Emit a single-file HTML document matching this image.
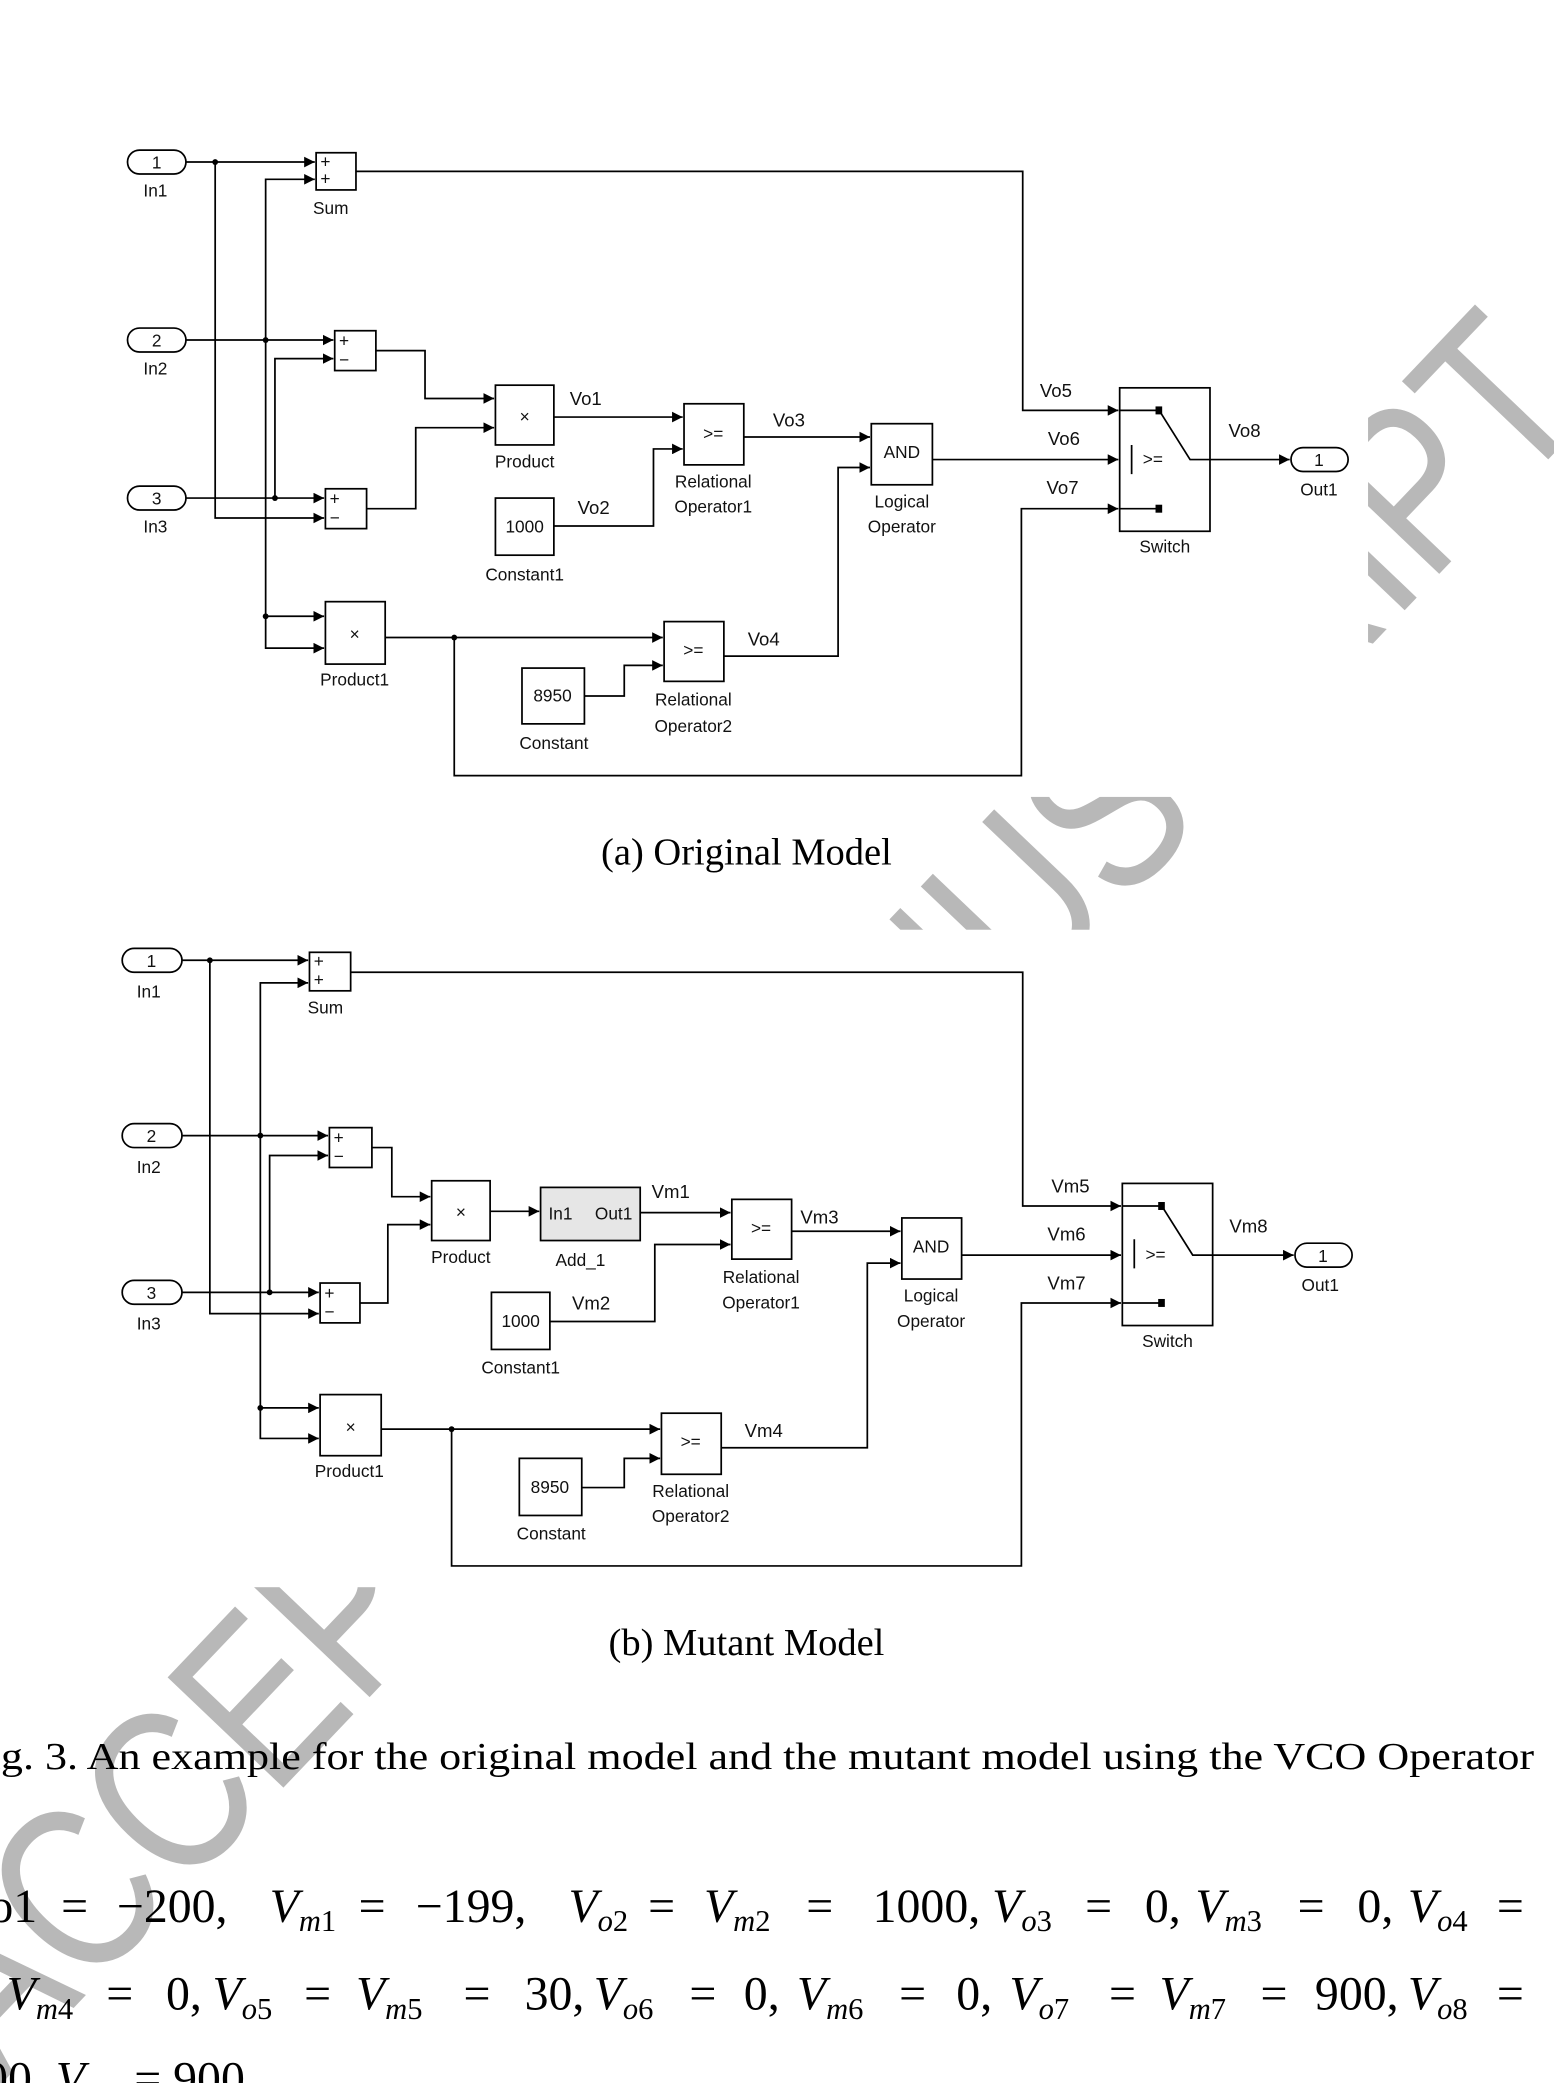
<!DOCTYPE html>
<html><head><meta charset="utf-8"><style>
html,body{margin:0;padding:0;background:#fff;}
svg{display:block;}
.b{fill:#fff;stroke:#000;stroke-width:1.3;}
.w{fill:none;stroke:#000;stroke-width:1.3;}
.t{font-family:"Liberation Sans",sans-serif;font-size:13px;fill:#111;text-anchor:middle;}
.l{font-family:"Liberation Sans",sans-serif;font-size:14px;fill:#111;text-anchor:middle;}
.s{font-family:"Liberation Serif",serif;fill:#000;}
.e{font-family:"Liberation Serif",serif;fill:#000;font-size:36px;}
.e tspan.v{font-style:italic;}
.e tspan.sb{font-size:23px;}
</style></head><body>
<svg width="1554" height="2083" viewBox="0 0 1170 1568.3" xmlns="http://www.w3.org/2000/svg">
<defs>
<marker id="a" viewBox="0 0 10 10" refX="10" refY="5" markerWidth="8" markerHeight="8" markerUnits="userSpaceOnUse" orient="auto"><path d="M0,0L10,5L0,10z" fill="#000"/></marker>
</defs>
<!-- watermark -->
<text x="0" y="0" transform="translate(0,1570) rotate(-46.4)" font-family="Liberation Sans,sans-serif" font-size="175" fill="#b8b8b8" textLength="1740" lengthAdjust="spacingAndGlyphs">ACCEPTED MANUSCRIPT</text>
<rect x="0" y="88" width="1030" height="512" fill="#fff"/>
<rect x="0" y="700" width="1170" height="495" fill="#fff"/>

<!-- ============ FIGURE A ============ -->
<g>
<g class="w" marker-end="url(#a)">
<path d="M140,122H237"/><path d="M162,122V390H244"/>
<path d="M140,256H251"/><path d="M200,256V135H237"/><path d="M200,256V488H244"/><path d="M200,464H244"/>
<path d="M140,375H244"/><path d="M207,375V270H251"/>
<path d="M283,264H320V300H372"/><path d="M276,383H313V322H372"/>
<path d="M417,314H514"/><path d="M417,396H492V338H514"/>
<path d="M560,329H655"/><path d="M702,346H842"/>
<path d="M290,480H499"/><path d="M342,480V584H769V383H842"/>
<path d="M440,524H470V501H499"/><path d="M545,494H631V352H655"/>
<path d="M268,129H770V309H842"/><path d="M911,346H971"/>
</g>
<g fill="#000"><circle cx="162" cy="122" r="2.2"/><circle cx="200" cy="256" r="2.2"/><circle cx="200" cy="464" r="2.2"/><circle cx="207" cy="375" r="2.2"/><circle cx="342" cy="480" r="2.2"/></g>
<rect class="b" x="96" y="113" width="44" height="18" rx="9"/><text class="t" x="118" y="127">1</text><text class="t" x="117" y="148">In1</text>
<rect class="b" x="96" y="247" width="44" height="18" rx="9"/><text class="t" x="118" y="261">2</text><text class="t" x="117" y="282">In2</text>
<rect class="b" x="96" y="366" width="44" height="18" rx="9"/><text class="t" x="118" y="380">3</text><text class="t" x="117" y="401">In3</text>
<rect class="b" x="972" y="337" width="43" height="18" rx="9"/><text class="t" x="993" y="351">1</text><text class="t" x="993" y="373">Out1</text>
<rect class="b" x="238" y="115" width="30" height="28"/><text class="t" x="245" y="126" font-size="11">+</text><text class="t" x="245" y="139" font-size="11">+</text><text class="t" x="249" y="161">Sum</text>
<rect class="b" x="252" y="249" width="31" height="30"/><text class="t" x="259" y="261" font-size="11">+</text><text class="t" x="259" y="275" font-size="11">−</text>
<rect class="b" x="245" y="368" width="31" height="30"/><text class="t" x="252" y="380" font-size="11">+</text><text class="t" x="252" y="394" font-size="11">−</text>
<rect class="b" x="373" y="290" width="44" height="45"/><text class="t" x="395" y="318" font-size="16">×</text><text class="t" x="395" y="352">Product</text>
<rect class="b" x="245" y="453" width="45" height="47"/><text class="t" x="267" y="482" font-size="16">×</text><text class="t" x="267" y="516">Product1</text>
<rect class="b" x="373" y="375" width="44" height="43"/><text class="t" x="395" y="401">1000</text><text class="t" x="395" y="437">Constant1</text>
<rect class="b" x="393" y="503" width="47" height="42"/><text class="t" x="416" y="528">8950</text><text class="t" x="417" y="564">Constant</text>
<rect class="b" x="515" y="304" width="45" height="46"/><text class="t" x="537" y="331">&gt;=</text><text class="t" x="537" y="367">Relational</text><text class="t" x="537" y="386">Operator1</text>
<rect class="b" x="500" y="468" width="45" height="45"/><text class="t" x="522" y="494">&gt;=</text><text class="t" x="522" y="531">Relational</text><text class="t" x="522" y="551">Operator2</text>
<rect class="b" x="656" y="319" width="46" height="46"/><text class="t" x="679" y="345">AND</text><text class="t" x="679" y="382">Logical</text><text class="t" x="679" y="401">Operator</text>
<rect class="b" x="843" y="292" width="68" height="108"/>
<path class="w" d="M843,309H872M843,383H872M852,335V357M874,311L896,346H911"/>
<rect x="870" y="306" width="5" height="6" fill="#000"/><rect x="870" y="380" width="5" height="6" fill="#000"/>
<text class="t" x="868" y="350" font-size="12">&gt;=</text><text class="t" x="877" y="416">Switch</text>
<text class="l" x="441" y="305">Vo1</text><text class="l" x="447" y="387">Vo2</text><text class="l" x="594" y="321">Vo3</text><text class="l" x="575" y="486">Vo4</text>
<text class="l" x="795" y="299">Vo5</text><text class="l" x="801" y="335">Vo6</text><text class="l" x="800" y="372">Vo7</text><text class="l" x="937" y="329">Vo8</text>
</g>
<text class="s" x="562" y="651" font-size="29" text-anchor="middle">(a) Original Model</text>

<!-- ============ FIGURE B ============ -->
<g>
<g class="w" marker-end="url(#a)">
<path d="M137,723H232"/><path d="M158,723V989H240"/>
<path d="M137,855H247"/><path d="M196,855V740H232"/><path d="M196,855V1083H240"/><path d="M196,1060H240"/>
<path d="M137,973H240"/><path d="M203,973V870H247"/>
<path d="M280,864H295V901H324"/><path d="M271,981H292V922H324"/>
<path d="M369,912H406"/><path d="M482,913H550"/>
<path d="M414,995H493V937H550"/>
<path d="M596,927H678"/><path d="M724,945H844"/>
<path d="M287,1076H497"/><path d="M340,1076V1179H769V981H844"/>
<path d="M438,1120H470V1098H497"/><path d="M543,1090H653V951H678"/>
<path d="M264,732H770V908H844"/><path d="M913,945H974"/>
</g>
<g fill="#000"><circle cx="158" cy="723" r="2.2"/><circle cx="196" cy="855" r="2.2"/><circle cx="196" cy="1060" r="2.2"/><circle cx="203" cy="973" r="2.2"/><circle cx="340" cy="1076" r="2.2"/></g>
<rect class="b" x="92" y="714" width="45" height="18" rx="9"/><text class="t" x="114" y="728">1</text><text class="t" x="112" y="751">In1</text>
<rect class="b" x="92" y="846" width="45" height="18" rx="9"/><text class="t" x="114" y="860">2</text><text class="t" x="112" y="883">In2</text>
<rect class="b" x="92" y="964" width="45" height="18" rx="9"/><text class="t" x="114" y="978">3</text><text class="t" x="112" y="1001">In3</text>
<rect class="b" x="975" y="936" width="43" height="18" rx="9"/><text class="t" x="996" y="950">1</text><text class="t" x="994" y="972">Out1</text>
<rect class="b" x="233" y="717" width="31" height="29"/><text class="t" x="240" y="728" font-size="11">+</text><text class="t" x="240" y="742" font-size="11">+</text><text class="t" x="245" y="763">Sum</text>
<rect class="b" x="248" y="849" width="32" height="30"/><text class="t" x="255" y="861" font-size="11">+</text><text class="t" x="255" y="875" font-size="11">−</text>
<rect class="b" x="241" y="966" width="30" height="30"/><text class="t" x="248" y="978" font-size="11">+</text><text class="t" x="248" y="992" font-size="11">−</text>
<rect class="b" x="325" y="889" width="44" height="45"/><text class="t" x="347" y="917" font-size="16">×</text><text class="t" x="347" y="951">Product</text>
<rect x="407" y="894" width="75" height="40" fill="#e6e6e6" stroke="#000" stroke-width="1.3"/><text class="t" x="422" y="918" font-size="12">In1</text><text class="t" x="462" y="918" font-size="12">Out1</text><text class="t" x="437" y="953">Add_1</text>
<rect class="b" x="241" y="1050" width="46" height="46"/><text class="t" x="264" y="1079" font-size="16">×</text><text class="t" x="263" y="1112">Product1</text>
<rect class="b" x="370" y="973" width="44" height="43"/><text class="t" x="392" y="999">1000</text><text class="t" x="392" y="1034">Constant1</text>
<rect class="b" x="391" y="1098" width="47" height="43"/><text class="t" x="414" y="1124">8950</text><text class="t" x="415" y="1159">Constant</text>
<rect class="b" x="551" y="903" width="45" height="45"/><text class="t" x="573" y="929">&gt;=</text><text class="t" x="573" y="966">Relational</text><text class="t" x="573" y="985">Operator1</text>
<rect class="b" x="498" y="1064" width="45" height="46"/><text class="t" x="520" y="1090">&gt;=</text><text class="t" x="520" y="1127">Relational</text><text class="t" x="520" y="1146">Operator2</text>
<rect class="b" x="679" y="917" width="45" height="46"/><text class="t" x="701" y="943">AND</text><text class="t" x="701" y="980">Logical</text><text class="t" x="701" y="999">Operator</text>
<rect class="b" x="845" y="891" width="68" height="107"/>
<path class="w" d="M845,908H874M845,981H874M854,933V955M876,910L898,945H913"/>
<rect x="872" y="905" width="5" height="6" fill="#000"/><rect x="872" y="978" width="5" height="6" fill="#000"/>
<text class="t" x="870" y="949" font-size="12">&gt;=</text><text class="t" x="879" y="1014">Switch</text>
<text class="l" x="505" y="902">Vm1</text><text class="l" x="445" y="986">Vm2</text><text class="l" x="617" y="921">Vm3</text><text class="l" x="575" y="1082">Vm4</text>
<text class="l" x="806" y="898">Vm5</text><text class="l" x="803" y="934">Vm6</text><text class="l" x="803" y="971">Vm7</text><text class="l" x="940" y="928">Vm8</text>
</g>
<text class="s" x="562" y="1246" font-size="29" text-anchor="middle">(b) Mutant Model</text>

<text class="s" x="-27" y="1332" font-size="29" textLength="1182" lengthAdjust="spacingAndGlyphs">Fig. 3. An example for the original model and the mutant model using the VCO Operator</text>

<!-- equations line 1 -->
<g class="e">
<text x="-8" y="1447">o1</text><text x="46" y="1447">=</text><text x="88" y="1447">−200,</text>
<text x="203" y="1447"><tspan class="v">V</tspan><tspan class="sb v" dy="7">m</tspan><tspan class="sb">1</tspan></text><text x="270" y="1447">=</text><text x="313" y="1447">−199,</text>
<text x="428" y="1447"><tspan class="v">V</tspan><tspan class="sb v" dy="7">o</tspan><tspan class="sb">2</tspan></text><text x="488" y="1447">=</text>
<text x="530" y="1447"><tspan class="v">V</tspan><tspan class="sb v" dy="7">m</tspan><tspan class="sb">2</tspan></text><text x="607" y="1447">=</text><text x="657" y="1447">1000,</text>
<text x="747" y="1447"><tspan class="v">V</tspan><tspan class="sb v" dy="7">o</tspan><tspan class="sb">3</tspan></text><text x="817" y="1447">=</text><text x="862" y="1447">0,</text>
<text x="900" y="1447"><tspan class="v">V</tspan><tspan class="sb v" dy="7">m</tspan><tspan class="sb">3</tspan></text><text x="977" y="1447">=</text><text x="1022" y="1447">0,</text>
<text x="1060" y="1447"><tspan class="v">V</tspan><tspan class="sb v" dy="7">o</tspan><tspan class="sb">4</tspan></text><text x="1127" y="1447">=</text>
</g>
<!-- line 2 -->
<g class="e">
<text x="5" y="1513"><tspan class="v">V</tspan><tspan class="sb v" dy="7">m</tspan><tspan class="sb">4</tspan></text><text x="80" y="1513">=</text><text x="125" y="1513">0,</text>
<text x="160" y="1513"><tspan class="v">V</tspan><tspan class="sb v" dy="7">o</tspan><tspan class="sb">5</tspan></text><text x="229" y="1513">=</text>
<text x="268" y="1513"><tspan class="v">V</tspan><tspan class="sb v" dy="7">m</tspan><tspan class="sb">5</tspan></text><text x="349" y="1513">=</text><text x="395" y="1513">30,</text>
<text x="447" y="1513"><tspan class="v">V</tspan><tspan class="sb v" dy="7">o</tspan><tspan class="sb">6</tspan></text><text x="519" y="1513">=</text><text x="560" y="1513">0,</text>
<text x="600" y="1513"><tspan class="v">V</tspan><tspan class="sb v" dy="7">m</tspan><tspan class="sb">6</tspan></text><text x="677" y="1513">=</text><text x="720" y="1513">0,</text>
<text x="760" y="1513"><tspan class="v">V</tspan><tspan class="sb v" dy="7">o</tspan><tspan class="sb">7</tspan></text><text x="835" y="1513">=</text>
<text x="873" y="1513"><tspan class="v">V</tspan><tspan class="sb v" dy="7">m</tspan><tspan class="sb">7</tspan></text><text x="949" y="1513">=</text><text x="990" y="1513">900,</text>
<text x="1060" y="1513"><tspan class="v">V</tspan><tspan class="sb v" dy="7">o</tspan><tspan class="sb">8</tspan></text><text x="1127" y="1513">=</text>
</g>
<text class="e" x="-12" y="1577">00, <tspan class="v">V</tspan><tspan class="sb v" dy="7">m</tspan><tspan class="sb">8</tspan><tspan dy="-7"> = 900</tspan></text>
</svg>
</body></html>
